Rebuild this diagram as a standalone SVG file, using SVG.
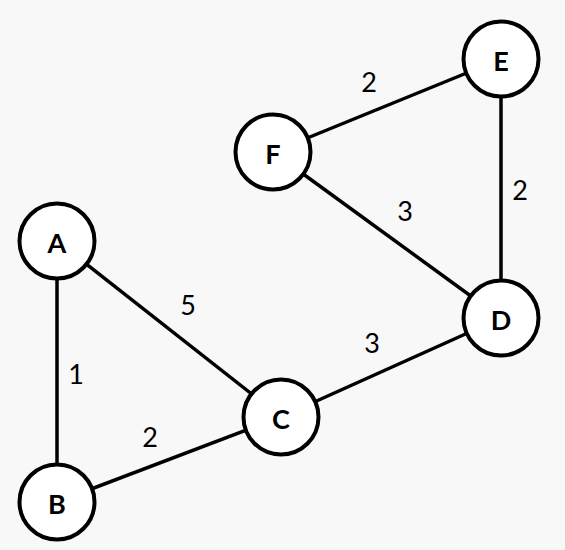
<svg xmlns="http://www.w3.org/2000/svg" width="565" height="550" viewBox="0 0 565 550">
<style>
.edge{stroke:#000;stroke-width:3.5;fill:none}
.node circle{fill:#fff;stroke:#000;stroke-width:4}
.node text{font-family:Lato,"Liberation Sans",sans-serif;font-weight:bold;font-size:27px;fill:#000;text-anchor:middle;dominant-baseline:central}
.lbl{font-family:Lato,"Liberation Sans",sans-serif;font-size:27px;fill:#000;text-anchor:middle;dominant-baseline:central}
</style>
<rect width="565" height="550" fill="#f8f8f8"/>
<g id="edges">
<line class="edge" x1="57" y1="241" x2="57" y2="502"/>
<line class="edge" x1="57" y1="241" x2="281" y2="417"/>
<line class="edge" x1="57" y1="502" x2="281" y2="417"/>
<line class="edge" x1="281" y1="417" x2="501" y2="318"/>
<line class="edge" x1="501" y1="318" x2="501" y2="59"/>
<line class="edge" x1="501" y1="318" x2="273" y2="152"/>
<line class="edge" x1="273" y1="152" x2="501" y2="59"/>
<text class="lbl" x="76" y="373">1</text>
<text class="lbl" x="150" y="436">2</text>
<text class="lbl" x="188" y="304">5</text>
<text class="lbl" x="372" y="342">3</text>
<text class="lbl" x="405" y="210">3</text>
<text class="lbl" x="520" y="189">2</text>
<text class="lbl" x="369" y="81">2</text>
</g>
<g id="A" class="node"><circle cx="57" cy="241" r="37.5"/><text x="57" y="242">A</text></g>
<g id="B" class="node"><circle cx="57" cy="502" r="37.5"/><text x="57" y="503">B</text></g>
<g id="C" class="node"><circle cx="281" cy="417" r="37.5"/><text x="281" y="418">C</text></g>
<g id="D" class="node"><circle cx="501" cy="318" r="37.5"/><text x="501" y="319">D</text></g>
<g id="E" class="node"><circle cx="501" cy="59" r="37.5"/><text x="501" y="60">E</text></g>
<g id="F" class="node"><circle cx="273" cy="152" r="37.5"/><text x="273" y="153">F</text></g>
</svg>
